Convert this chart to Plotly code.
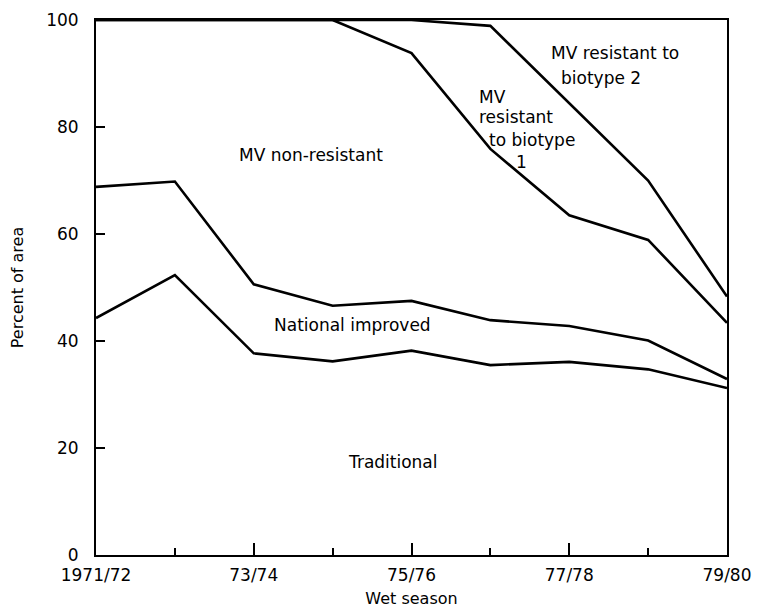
import plotly.graph_objects as go

seasons = ["1971/72", "72/73", "73/74", "74/75", "75/76", "76/77", "77/78", "78/79", "79/80"]
tick_labels = ["1971/72", "", "73/74", "", "75/76", "", "77/78", "", "79/80"]

# Cumulative upper boundaries (percent of area) of each stacked band
traditional_top = [44.3, 52.3, 37.7, 36.2, 38.2, 35.5, 36.1, 34.7, 31.2]
national_top = [68.8, 69.8, 50.6, 46.6, 47.5, 43.9, 42.8, 40.1, 32.9]
mv_nonres_top = [100, 100, 100, 100, 93.8, 75.9, 63.5, 58.9, 43.4]
mv_bio1_top = [100, 100, 100, 100, 100, 98.9, 84.5, 70.0, 48.3]

FONT = "DejaVu Sans"
x = list(range(len(seasons)))

fig = go.Figure()
for ys in [traditional_top, national_top, mv_nonres_top, mv_bio1_top]:
    fig.add_trace(go.Scatter(x=x, y=ys, mode="lines",
                             line=dict(color="black", width=2.6),
                             cliponaxis=False, showlegend=False, hoverinfo="skip"))

ann = [
    ("MV non-resistant", 2.73, 74.8, "center"),
    ("National improved", 3.25, 43.0, "center"),
    ("Traditional", 3.77, 17.4, "center"),
    ("MV resistant to", 5.74, 93.8, "left"),
    ("biotype 2", 5.87, 89.2, "left"),
    ("MV", 4.83, 85.6, "left"),
    ("resistant", 4.83, 81.9, "left"),
    ("to biotype", 4.96, 77.6, "left"),
    ("1", 5.40, 73.4, "center"),
]
for text, ax, ay, anchor in ann:
    fig.add_annotation(x=ax, y=ay, text=text, showarrow=False, xanchor=anchor,
                       yanchor="middle", font=dict(family=FONT, size=17, color="black"))

# the page body adds an 8px margin, so the figure is sized/offset to compensate
fig.update_layout(
    width=755, height=603,
    margin=dict(l=88, r=36, t=12, b=56),
    paper_bgcolor="white", plot_bgcolor="white",
    font=dict(family=FONT, size=17, color="black"),
    xaxis=dict(range=[0, 8], tickmode="array", tickvals=x, ticktext=tick_labels,
               ticks="inside", ticklen=12, tickwidth=2, tickcolor="black",
               minor=dict(ticks="inside", ticklen=7, tickwidth=2, tickcolor="black",
                          tickvals=[1, 3, 5, 7]),
               showline=True, linecolor="black", linewidth=2, mirror=True,
               showgrid=False, zeroline=False, automargin=False,
               ticklabelstandoff=4,
               tickfont=dict(family=FONT, size=17),
               title=dict(text="Wet season", font=dict(family=FONT, size=16), standoff=8)),
    yaxis=dict(range=[0, 100], tickmode="array", tickvals=[0, 20, 40, 60, 80, 100],
               ticks="inside", ticklen=9, tickwidth=2, tickcolor="black",
               showline=True, linecolor="black", linewidth=2, mirror=True,
               showgrid=False, zeroline=False, automargin=False,
               ticklabelstandoff=12,
               tickfont=dict(family=FONT, size=17),
               title=dict(text="Percent of area", font=dict(family=FONT, size=16), standoff=22)),
)
fig.write_html("out.html")
